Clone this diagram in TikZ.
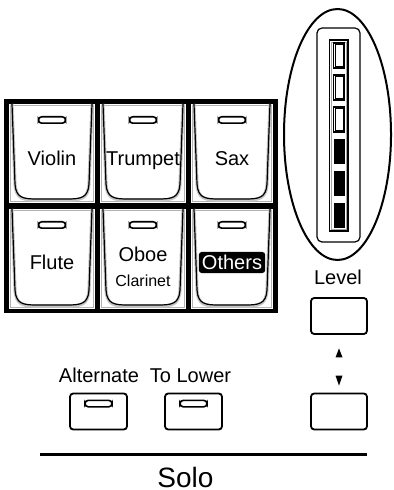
\documentclass[tikz,border=0pt]{standalone}
\usepackage{fontspec}
\setmainfont{Liberation Sans}
\usetikzlibrary{calc,positioning}

\tikzset{
  keyline/.style={line width=0.6pt},
  keyshade/.style={line width=1.6pt,gray!45},
  pill/.style={draw,line width=0.8pt,rounded corners=1.6pt,minimum width=13.5pt,minimum height=3.2pt,inner sep=0pt},
  panelbtn/.style={draw,line width=0.9pt,rounded corners=1.6pt,minimum width=28pt,minimum height=18pt,inner sep=0pt},
  keylabel/.style={font=\fontsize{10}{12}\selectfont,anchor=base,inner sep=0pt},
}

\begin{document}
\begin{tikzpicture}[x=0.5pt,y=-0.5pt]
    \useasboundingbox (0,0) rectangle (394,490);

    % Six solo voice keys in a black frame.
    \fill[black] (4,99) rectangle (278,313);
    \foreach \xl/\xr/\yt/\yb/\name in {9/95/104/203/violin,100/186/104/203/trumpet,191/273/104/203/sax,
                                       9/95/209/309/flute,100/186/209/309/oboe,191/273/209/309/others} {
      \pgfmathsetmacro{\xc}{(\xl+\xr)/2}
      \fill[white] (\xl,\yt) rectangle (\xr,\yb);
      \draw[gray!60,line width=0.4pt] (\xl+1.5,\yt+1.5) rectangle (\xr-1.5,\yb-1.5);
      \draw[keyshade] (\xl+3,\yt) -- (\xl+6,\yb-19)
        .. controls (\xl+7,\yb-4) and (\xl+14,\yb-3) .. (\xl+28,\yb-3)
        -- (\xr-28,\yb-3) .. controls (\xr-14,\yb-3) and (\xr-7,\yb-4) .. (\xr-6,\yb-19)
        -- (\xr-3,\yt);
      \draw[keyline] (\xl+3,\yt) -- (\xl+6,\yb-19)
        .. controls (\xl+7,\yb-5) and (\xl+14,\yb-4) .. (\xl+28,\yb-4)
        -- (\xr-28,\yb-4) .. controls (\xr-14,\yb-4) and (\xr-7,\yb-5) .. (\xr-6,\yb-19)
        -- (\xr-3,\yt);
      \node[pill] (\name led) at (\xc,\yt+16) {};
    }
    \node[keylabel] (violin) at (52,166) {Violin};
    \node[keylabel] (trumpet) at (143,166) {Trumpet};
    \node[keylabel] (sax) at (232,166) {Sax};
    \node[keylabel] (flute) at (52,270) {Flute};
    \node[keylabel] (oboe) at (143,262) {Oboe};
    \node[keylabel,font=\fontsize{8}{10}\selectfont] (clarinet) at (143,287) {Clarinet};
    \node[fill=black,text=white,rounded corners=1.5pt,inner xsep=1.6pt,inner ysep=1.6pt,
          font=\fontsize{10}{12}\selectfont] (otherslbl) at (232,262.5) {Others};

    % Level meter inside the ellipse.
    \draw[line width=1pt] (337.5,134.5) ellipse [x radius=53.5, y radius=125.5];
    \draw[line width=0.6pt,rounded corners=2.5pt] (317,28) rectangle (360,242);
    \draw[line width=0.6pt] (329.5,40) rectangle (348,231);
    \draw[gray!70,line width=0.4pt] (331.5,42) rectangle (346,229);
    \foreach \i in {0,...,5} {
      \pgfmathsetmacro{\ytop}{43+32*\i}
      \pgfmathsetmacro{\ybottom}{68+32*\i}
      \ifnum\i<3
        \draw[line width=0.6pt] (333.5,\ytop) rectangle (344.5,\ybottom);
        \draw[line width=0.3pt] (335,\ytop+1.5) rectangle (343,\ybottom-1.5);
      \else
        \fill[black] (333.5,\ytop) rectangle (344.5,\ybottom);
      \fi
    }
    \node[keylabel] (level) at (338,285) {Level};

    % Level buttons with up and down marks.
    \node[panelbtn] (levelup) at (339,316) {};
    \node[panelbtn] (leveldown) at (339,411.5) {};
    \fill ($(levelup.south)+(0,13.5)$) -- ++(-3.5,9) -- ++(7,0) -- cycle;
    \fill ($(leveldown.north)+(0,-7)$) -- ++(-3.5,-10) -- ++(7,0) -- cycle;

    % Alternate and To Lower buttons.
    \node[keylabel] (alternate) at (99,382) {Alternate};
    \node[keylabel] (tolower) at (190.5,382) {To Lower};
    \node[panelbtn,minimum width=28.5pt] (altbtn) at (98.5,411.5) {};
    \node[panelbtn,minimum width=28.5pt] (lowerbtn) at (193.5,411.5) {};
    \node[pill] (altled) at ($(altbtn.north)+(0,11)$) {};
    \node[pill] (lowerled) at ($(lowerbtn.north)+(0,11)$) {};

    % Section rule and title.
    \draw[line width=1.5pt] (40,454) -- (367,454);
    \node[keylabel,font=\fontsize{14}{16}\selectfont] (solo) at (185.5,487) {Solo};
  \end{tikzpicture}
\end{document}
